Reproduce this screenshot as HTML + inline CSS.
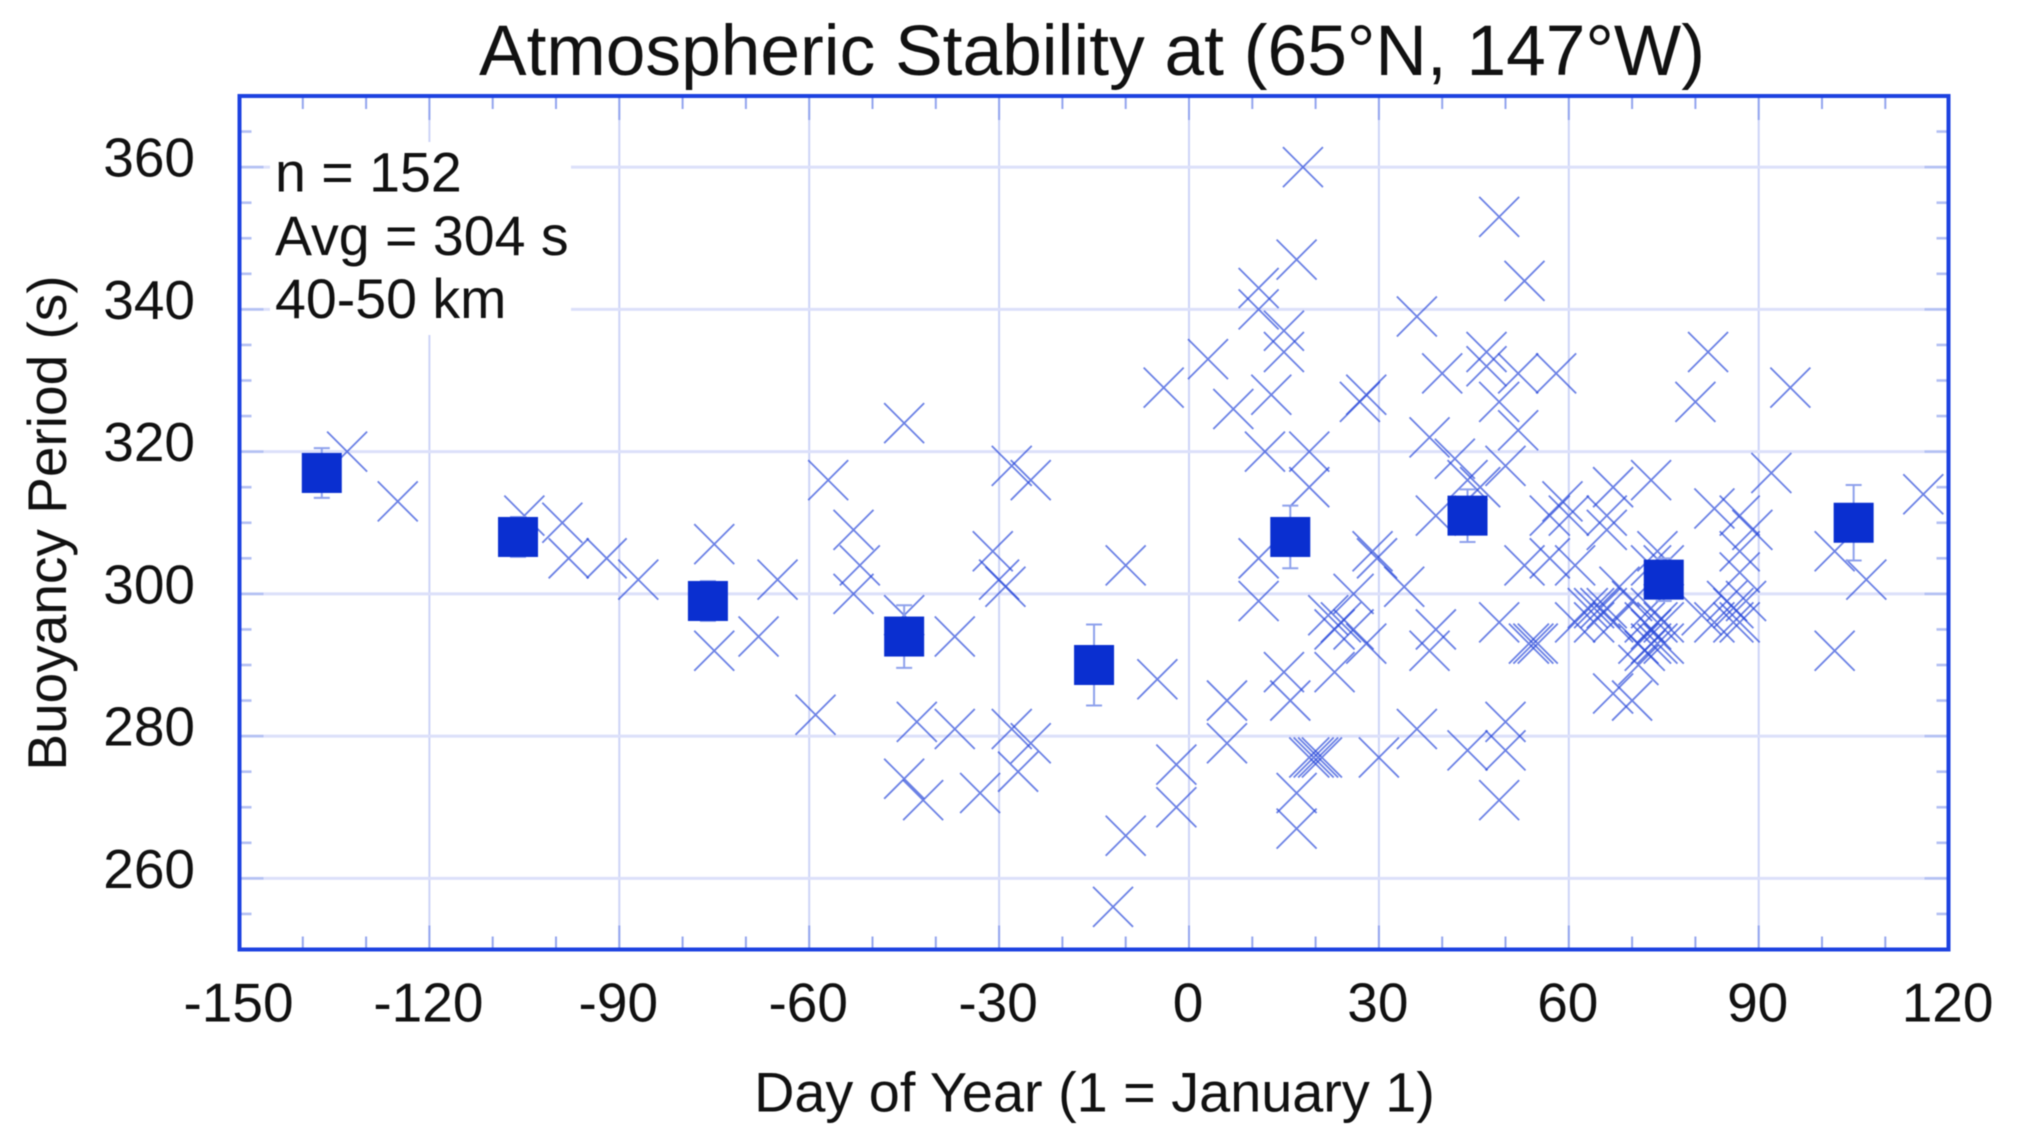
<!DOCTYPE html>
<html lang="en">
<head>
<meta charset="utf-8">
<title>Atmospheric Stability at (65°N, 147°W)</title>
<style>
html,body{margin:0;padding:0;background:#fff;width:2019px;height:1139px;overflow:hidden}
svg{display:block;filter:blur(.45px)}
text{font-family:"Liberation Sans",Arial,sans-serif;fill:#111}
</style>
</head>
<body>
<svg id="chart" width="2019" height="1139" viewBox="0 0 2019 1139" xmlns="http://www.w3.org/2000/svg">
  <rect width="2019" height="1139" fill="#fff"/>
  <text x="1092" y="75" font-size="71.3" text-anchor="middle">Atmospheric Stability at (65°N, 147°W)</text>
  <g id="grid"></g>
  <g id="ticks"></g>
  <rect x="270" y="142" width="301" height="193" fill="#fff"/>
  <g font-size="55.5">
    <text x="275" y="191.5">n = 152</text>
    <text x="275" y="255">Avg = 304 s</text>
    <text x="275" y="318">40-50 km</text>
  </g>
  <g id="points"></g>
  <g id="averages"></g>
  <rect x="239.5" y="96" width="1709" height="853.5" fill="none" stroke="#1d42e0" stroke-width="4"/>
  <g id="tickLabels" font-size="55"></g>
  <text x="1094.5" y="1111.5" font-size="55.8" text-anchor="middle">Day of Year (1 = January 1)</text>
  <text transform="translate(66,523) rotate(-90)" font-size="55" text-anchor="middle">Buoyancy Period (s)</text>
</svg>
<script>
const xTickLabels = ["-150","-120","-90","-60","-30","0","30","60","90","120"];
const yTickLabels = ["260","280","300","320","340","360"];
const xDays = [-133,-125,-105,-99,-98,-92,-87,-75,-75,-68,-65,-59,-57,-53,-53,-52,-45,-45,-45,-43,-42,-37,-37,-33,-31,-30,-29,-28,-28,-27,-25,-25,-12,-10,-10,-5,-4,-2,-2,3,6,6,7,11,11,11,11,12,13,15,15,15,16,17,17,17,18,19,19,19,19.7,20.4,21,22,23,23,24,26,26,28,27,29,28,29.7,30,34,36,36,38,38,39,39,40,42,44,44,46,47,47,49,49,49,49,50,50,50,52,52,53,53,53.7,54.4,55.1,57,57,58,59,60,61,61,63,64,65,66,64,66,66,67,67,67,68,70,70,71,71,72,72,73,73,73,73,73,74,74,74,75,75,75,80,81,82,83,83,85,86,86,87,87,87,87,88,89,92,95,102,102,107,116];
const yPeriods = [320,313,311,310,305,305,302,307,292,294,302,283,316,309,300,304,324,297,274,282,271,294,281,272,306,302,301,318,281,275,316,279,256,304,266,288,329,276,270,333,285,279,326,343,340,305,299,320,328,337,334,289,285,347,272,267,360,320,315,277,277,277,277,297,295,289,296,300,295,328,327,306,293,305,277,301,339,281,322,292,311,295,331,319,316,278,315,334,332,327,296,271,353,318,282,278,331,323,344,304,293,293,293,311,305,331,313,311,304,296,298,298,298,298,296,311,309,315,296,286,301,299,285,290,293,296,292,316,304,298,295,293,306,296,293,304,296,293,327,297,334,312,296,299,298,296,311,306,303,296,299,309,317,329,306,292,302,314];
const avgDays = [-137,-106,-76,-45,-15,16,44,75,105];
const avgPeriods = [317,308,299,294,290,308,311,302,310];
const avgErrors = [3.5,2.8,2.8,4.4,5.7,4.4,3.7,3,5.3];

const NS = "http://www.w3.org/2000/svg";
const xScale = d => 239.5 + (d + 150) * 6.33;
const yScale = v => 949.5 - (v - 250) * 7.1125;
function make(tag, attrs, parent) {
  const el = document.createElementNS(NS, tag);
  for (const k in attrs) el.setAttribute(k, attrs[k]);
  parent.appendChild(el);
  return el;
}
const gGrid = document.getElementById("grid");
const gTicks = document.getElementById("ticks");
const gLabels = document.getElementById("tickLabels");
const gPoints = document.getElementById("points");
const gAvg = document.getElementById("averages");

xTickLabels.forEach(t => {
  const x = xScale(+t);
  if (+t > -150 && +t < 120) {
    const ln = make("line", {x1: x, x2: x, y1: 96, y2: 949.5, stroke: "#cdd4f7", "stroke-width": 2}, gGrid);
    
    
  }
  const lb = make("text", {x: x - 1, y: 1021.5, "text-anchor": "middle"}, gLabels);
  lb.textContent = t;
  
  
});
yTickLabels.forEach(t => {
  const y = yScale(+t);
  const ln = make("line", {x1: 239.5, x2: 1948.5, y1: y, y2: y, stroke: "#dce0fa", "stroke-width": 3}, gGrid);
  
  
  const lb = make("text", {x: 195, y: y + 9.5, "text-anchor": "end"}, gLabels);
  lb.textContent = t;
  
  
});
for (let d = -150; d <= 120; d += 10) {
  const x = xScale(d);
  const len = d % 30 === 0 ? 24 : 13;
  [[96, 96 + len], [949.5, 949.5 - len]].forEach(p => {
    const tk = make("line", {x1: x, x2: x, y1: p[0], y2: p[1], stroke: "#93a5ee", "stroke-width": 2}, gTicks);
    
    
  });
}
for (let v = 255; v <= 365; v += 5) {
  const y = yScale(v);
  const len = v % 20 === 0 ? 24 : 12;
  [[239.5, 239.5 + len], [1948.5, 1948.5 - len]].forEach(p => {
    const tk = make("line", {x1: p[0], x2: p[1], y1: y, y2: y, stroke: "#b3c0f3", "stroke-width": 2.6}, gTicks);
    
    
  });
}
xDays.forEach((d, i) => {
  const x = xScale(d), y = yScale(yPeriods[i]), r = 20;
  const p = make("path", {d: `M${x-r} ${y-r}L${x+r} ${y+r}M${x-r} ${y+r}L${x+r} ${y-r}`, fill: "none", stroke: "#2546d8", "stroke-opacity": .68, "stroke-width": 1.8}, gPoints);
  
  
});
avgDays.forEach((d, i) => {
  const x = xScale(d), y = yScale(avgPeriods[i]);
  const yHi = yScale(avgPeriods[i] + avgErrors[i]), yLo = yScale(avgPeriods[i] - avgErrors[i]);
  const e = make("path", {d: `M${x} ${yHi}L${x} ${yLo}M${x-8} ${yHi}L${x+8} ${yHi}M${x-8} ${yLo}L${x+8} ${yLo}`, fill: "none", stroke: "#8ea1ec", "stroke-width": 2}, gAvg);
  
  
  const s = make("rect", {x: x - 20, y: y - 20, width: 40, height: 40, fill: "#0a2fd0"}, gAvg);
  
  
});
</script>
</body>
</html>
